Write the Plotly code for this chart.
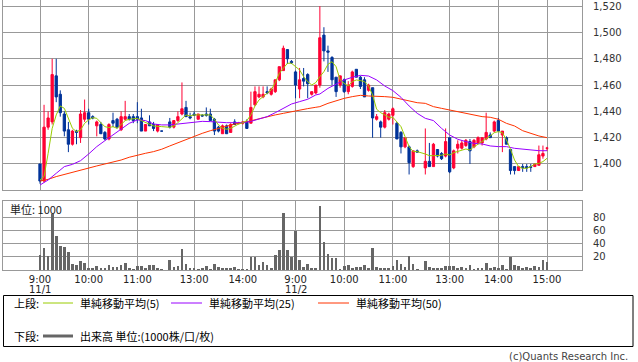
import plotly.graph_objects as go

# ---------------- data (5-minute bars, slot index; 31 and 94 = lunch break, no bar) -------------
slots = [i for i in range(126) if i not in (31, 94)]

opens = [1400,1387,1428,1432,1467,1453,1438,1426,1415,1425,1420,1434,1439,1436,1429,1430,1424,1419,1433,1434,
         1426,1434,1436,1436,1436,1435,1425,1432,1430,1425,1425,
         1432,1428,1433,1438,1443,1436,1438,1434,1437,1438,1438,1434,1428,1423,1429,1424,1432,1431,1431,1432,
         1431,1445,1451,1451,1455,1453,1455,1464,1471,1487,1478,
         1470,1457,1465,1468,1453,1454,1460,1498,1486,1481,1466,1460,1464,1455,1459,1472,1466,1464,1456,1458,
         1434,1432,1428,1434,1437,1431,1424,1413,1413,1398,1410,
         1397,1402,1398,1411,1408,1406,1420,1397,1412,1412,1414,1417,1413,1416,1416,1419,1422,1425,1433,1422,
         1420,1411,1398,1395,1398,1398,1398,1398,1399,1406,1412]
highs = [1400,1445,1440,1480,1480,1456,1440,1432,1426,1426,1441,1449,1442,1437,1433,1432,1425,1431,1439,1435,
         1440,1448,1438,1438,1447,1442,1430,1437,1432,1430,1425,
         1435,1433,1440,1462,1448,1439,1440,1438,1438,1443,1442,1435,1429,1430,1430,1431,1434,1432,1432,
         1434,1455,1459,1459,1459,1459,1458,1464,1474,1490,1487,1479,
         1471,1473,1473,1469,1455,1460,1520,1504,1490,1482,1466,1467,1465,1463,1471,1472,1467,1466,1461,1458,
         1438,1433,1441,1439,1443,1432,1425,1420,1414,1410,1411,
         1427,1416,1416,1411,1409,1427,1420,1411,1418,1418,1419,1419,1419,1421,1420,1439,1424,1433,1435,1425,
         1421,1411,1398,1398,1400,1400,1400,1400,1414,1414,1413]
lows = [1385,1386,1426,1430,1447,1436,1421,1409,1414,1415,1416,1432,1430,1434,1421,1423,1418,1418,1428,1427,
        1425,1433,1433,1431,1431,1425,1425,1429,1425,1424,1425,
        1427,1427,1432,1437,1436,1434,1437,1434,1436,1436,1433,1422,1424,1423,1423,1424,1430,1430,1430,
        1427,1431,1444,1450,1450,1453,1452,1454,1463,1471,1476,1476,
        1450,1450,1459,1450,1452,1453,1458,1478,1470,1460,1451,1458,1454,1453,1458,1466,1457,1451,1455,1420,
        1433,1420,1427,1433,1430,1419,1408,1412,1392,1397,1409,
        1392,1398,1398,1405,1403,1405,1393,1396,1408,1411,1413,1400,1412,1415,1414,1418,1421,1424,1425,1409,
        1415,1392,1392,1395,1394,1394,1394,1398,1399,1404,1410]
closes = [1387,1428,1435,1468,1451,1439,1425,1415,1425,1424,1438,1439,1434,1435,1432,1423,1419,1430,1431,1428,
          1436,1436,1434,1433,1434,1425,1430,1429,1427,1430,1425,
          1428,1433,1436,1442,1436,1435,1437,1438,1436.5,1437,1433,1425,1425,1429,1423,1430,1430,1431,1432,
          1427,1443,1455,1453,1453,1454,1457,1464,1474,1488,1480,1477,
          1460,1464,1463,1461,1455,1460,1496,1486,1485,1464,1455,1467,1455,1460,1470,1466,1459,1451,1460,1435,
          1436,1428,1439,1438,1442,1419,1413,1420,1401,1410,1409,
          1402,1398,1415,1406,1404,1417,1394,1410,1415,1416,1418,1410,1418,1420,1420,1424,1420,1432,1425,1425,
          1415,1395,1395,1398,1397,1397,1397.5,1400,1407,1408,1412]
volumes = [22.4,33,22,84.5,52.4,36,35,27.5,9,7,13.7,10.7,2.5,2.5,5.6,2.5,2.5,7,4,4,
           7,10.7,2.5,0.5,5.6,5.6,3,7,7,2.5,1,
           15.8,4,5.6,32,9.7,3.5,3.5,1.5,2.5,5.6,1.5,9,4,2.5,2.5,2.5,4,1,1.5,
           1.5,19.3,19.3,8.1,12.2,8.1,3,23.4,31,86,30,19.8,
           60,14.8,4,9,2.5,2.5,98,43,25,17.8,17.8,1,6.6,8,2.5,4,4,7,2.5,34,
           5,2,3.5,2,6.6,15.8,9.7,4,21.9,9.7,0.5,
           13.2,4,2,2,2,6.6,6.6,6.6,3,4,2,8,1,2,2,10,3,4,2,7,
           1,19.3,7,6,3.5,5,3.5,6,4,15.3,12.7]

# moving averages (slot, value)
ma5_x = [0,1,2,3,4,5,6,7,8,9,10,11,12,13,14,15,16,17,18,19,20,21,22,23,24,25,26,27,28,29,30,
         32,33,34,35,36,37,38,39,40,41,42,43,44,45,46,47,48,49,50,51,52,53,54,55,56,57,58,59,60,61,62,
         63,64,65,66,67,68,69,70,71,72,73,74,75,76,77,78,79,80,81,82,83,84,85,86,87,88,89,90,91,92,93,
         95,96,97,98,99,100,101,102,103,104,105,106,107,108,109,110,111,112,113,114,115,116,117,118,119,
         120,121,122,123,124,125]
ma5_y = [1387.8,1390.4,1408,1427,1437.3,1444.1,1442.3,1434.7,1427.1,1424.6,1425.9,1430.9,1433.5,1435.2,1434.7,
         1431.4,1428.4,1427.6,1428.4,1427.1,1429.7,1433,1434,1434.2,1434.7,1433,1431.4,1430.2,1428.9,1428.9,1428.4,
         1427.9,1428.9,1431.4,1434.7,1437.3,1436.5,1437.3,1437.3,1437.3,1437.8,1437.3,1434,1429.7,1427.1,1426.4,
         1427.1,1428.9,1430.4,1431.4,1433,1437.3,1444.1,1448.7,1451.2,1453.7,1456.3,1461.9,1468.9,1472.8,1476.6,1476.6,
         1474,1471.5,1466.4,1462.6,1460.1,1461.9,1466.4,1470.2,1475.8,1477.8,1474,1463.9,1461.3,1459.3,1462.6,
         1463.9,1463.4,1462.6,1459.3,1452.5,1441.6,1439,1437.3,1435.5,1435.5,1432.2,1428.4,1420.8,1413.2,1409.4,1409.4,
         1407.6,1406.3,1406.3,1406.3,1406.6,1407.6,1406.8,1408.6,1409.4,1410.6,1411.4,1410.6,1413.2,1415,1417,1418.8,
         1421.3,1423.8,1424.6,1423.8,1418.3,1411.2,1403,1398,1396.7,1396.7,1398,1400,1400.5,1401.8,1404.3]
ma25_x = [0,2,4,6,8,10,12,14,16,18,20,22,24,26,28,30,32,34,36,38,40,42,44,46,48,50,52,54,56,58,60,62,
          64,66,68,69,71,73,75,77,79,81,83,85,87,89,91,93,95,97,99,101,103,105,107,109,111,113,115,117,119,
          121,123,125]
ma25_y = [1384,1387.8,1392.9,1398,1399.7,1402.5,1407.6,1413.2,1417.7,1422,1426.4,1430.9,1433.5,1433,1430.4,
          1429.7,1429.7,1430.4,1430.9,1431.4,1432.4,1432.2,1431.7,1431.4,1431.4,1431.4,1432.4,1434,1436,1439,
          1442.3,1445.6,1447.4,1449.2,1452.5,1453.2,1457.5,1460.8,1463.9,1465.9,1467.4,1466.9,1463.9,1459.3,
          1455.8,1450.7,1444.1,1438.5,1434.7,1433,1427.1,1422,1418.8,1417,1415.7,1415.2,1413.7,1413.2,1413.2,
          1411.9,1411.2,1410.6,1410.1,1410.1]
ma50_x = [0,2,4,6,8,10,12,14,16,18,20,22,24,26,28,30,32,34,36,38,40,42,44,46,48,50,52,54,56,58,60,62,
          64,66,68,69,71,73,75,77,79,81,83,85,87,89,91,93,95,97,99,101,103,105,107,109,111,113,115,117,119,
          121,123,125]
ma50_y = [1387,1388.3,1390.4,1392.1,1393.4,1395.4,1397.2,1398.5,1400,1401.3,1403,1405.1,1406.8,1408.1,1409.4,
          1411.2,1413.7,1416.2,1418.8,1421.3,1423.3,1425.3,1427.1,1428.9,1430.4,1431.4,1433,1434.5,1436,1437.3,
          1438.5,1439.8,1441.1,1442.1,1443.1,1443.6,1446.1,1448.2,1449.9,1451.2,1452.2,1451.7,1451.7,1451.2,
          1450.7,1449.2,1448.2,1446.6,1446.1,1443.6,1442.3,1441.1,1439.8,1438.5,1437.3,1436,1435.5,1434,1430.9,
          1428.9,1425.3,1423.3,1421.3,1420]

tick_slots = [0, 12, 24, 38, 50, 63, 75, 87, 101, 113, 125]
tick_labels = ["9:00", "10:00", "11:00", "13:00", "14:00", "9:00",
               "10:00", "11:00", "13:00", "14:00", "15:00"]
date_slots = [0, 63]
date_labels = ["11/1", "11/2"]
price_ticks = [1400, 1420, 1440, 1460, 1480, 1500, 1520]
vol_ticks = [20, 40, 60, 80]

# ---------------- figure ----------------
W, H = 638, 362
def px(x): return x / W
def py(y): return 1 - y / H

RED, BLUE = "#ff0033", "#003399"
GRID = "#999999"
NUM_FONT = "DejaVu Sans, Noto Sans CJK JP"
JP_FONT = "Noto Sans CJK JP, DejaVu Sans"

fig = go.Figure()
fig.add_trace(go.Candlestick(
    x=slots, open=opens, high=highs, low=lows, close=closes,
    increasing=dict(line=dict(color=RED, width=1), fillcolor=RED),
    decreasing=dict(line=dict(color=BLUE, width=1), fillcolor=BLUE),
    whiskerwidth=0, xaxis="x", yaxis="y", hoverinfo="skip", showlegend=False))
fig.add_trace(go.Scatter(x=ma50_x, y=ma50_y, mode="lines", line=dict(color="#ff3300", width=1),
                         xaxis="x", yaxis="y", showlegend=False, hoverinfo="skip"))
fig.add_trace(go.Scatter(x=ma25_x, y=ma25_y, mode="lines", line=dict(color="#9900ff", width=1),
                         xaxis="x", yaxis="y", showlegend=False, hoverinfo="skip"))
fig.add_trace(go.Scatter(x=ma5_x, y=ma5_y, mode="lines", line=dict(color="#99cc00", width=1),
                         xaxis="x", yaxis="y", showlegend=False, hoverinfo="skip"))

vol_x = [i for i in range(126) if i not in (31, 94)]
fig.add_trace(go.Bar(x=vol_x, y=volumes, marker=dict(color="#666666", line=dict(width=0)),
                     width=0.66, xaxis="x2", yaxis="y2", showlegend=False, hoverinfo="skip"))

xr = [(3 - 40) / 4.056, (582 - 40) / 4.056]
common_x = dict(range=xr, tickmode="array", tickvals=tick_slots, showgrid=True, gridcolor=GRID,
                gridwidth=1, zeroline=False, showline=True, mirror=True, linecolor=GRID, linewidth=1,
                ticks="", fixedrange=True)

fig.update_layout(
    width=W, height=H, margin=dict(l=0, r=0, t=0, b=0),
    paper_bgcolor="white", plot_bgcolor="white", bargap=0, boxgap=0.2,
    xaxis=dict(common_x, domain=[px(3), px(582)], anchor="y", showticklabels=False,
               rangeslider=dict(visible=False)),
    yaxis=dict(domain=[py(190), 1.0], range=[1380.2, 1524.7], side="right", tickmode="array",
               tickvals=price_ticks, ticktext=[f"{v:,}" for v in price_ticks], showgrid=True,
               gridcolor=GRID, zeroline=False, showline=True, mirror=True, linecolor=GRID, ticks="",
               ticklabelstandoff=8, tickfont=dict(family=NUM_FONT, size=10, color="#333333"), anchor="x"),
    xaxis2=dict(common_x, domain=[px(3), px(582)], anchor="y2", ticktext=tick_labels,
                tickfont=dict(family=NUM_FONT, size=10, color="#222222")),
    yaxis2=dict(domain=[py(270), py(201)], range=[0, 105], side="right", tickmode="array",
                tickvals=vol_ticks, ticktext=[str(v) for v in vol_ticks], showgrid=True, gridcolor=GRID,
                zeroline=False, showline=True, mirror=True, linecolor=GRID, ticks="",
                ticklabelstandoff=8, tickfont=dict(family=NUM_FONT, size=10, color="#333333"), anchor="x2"),
)

ann = []
for s, lab in zip(date_slots, date_labels):
    ann.append(dict(x=s, y=py(289.5), xref="x2", yref="paper", text=lab, showarrow=False,
                    xanchor="center", yanchor="middle", font=dict(family=NUM_FONT, size=10, color="#222222")))
ann.append(dict(x=px(8), y=py(209), xref="paper", yref="paper", text="単位: 1000", showarrow=False,
                xanchor="left", yanchor="middle", font=dict(family=JP_FONT, size=11, color="#222222")))
# legend box
shapes = [dict(type="rect", xref="paper", yref="paper", x0=px(3.5), x1=px(633), y0=py(346.5), y1=py(295.5),
               line=dict(color="#000000", width=1), fillcolor="rgba(0,0,0,0)")]
legend_rows = [
    (303, "上段:", [(43, 73, "#99cc00", 1, "単純移動平均(5)"),
                    (171, 202, "#9900ff", 1, "単純移動平均(25)"),
                    (318, 349, "#ff3300", 1, "単純移動平均(50)")]),
    (336, "下段:", [(43, 73, "#666666", 3, "出来高 単位:(1000株/口/枚)")]),
]
for yy, head, items in legend_rows:
    ann.append(dict(x=px(12), y=py(yy), xref="paper", yref="paper", text=head, showarrow=False,
                    xanchor="left", yanchor="middle", font=dict(family=JP_FONT, size=11, color="#000000")))
    for x0, x1, col, lw, label in items:
        shapes.append(dict(type="line", xref="paper", yref="paper", x0=px(x0), x1=px(x1), y0=py(yy), y1=py(yy),
                           line=dict(color=col, width=lw)))
        ann.append(dict(x=px(x1 + 5), y=py(yy), xref="paper", yref="paper", text=label, showarrow=False,
                        xanchor="left", yanchor="middle", font=dict(family=JP_FONT, size=11, color="#000000")))
ann.append(dict(x=px(630), y=py(356), xref="paper", yref="paper", text="(c)Quants Research Inc.",
                showarrow=False, xanchor="right", yanchor="middle",
                font=dict(family="DejaVu Sans", size=10, color="#444444")))
fig.update_layout(annotations=ann, shapes=shapes)

fig.write_html("out.html")
